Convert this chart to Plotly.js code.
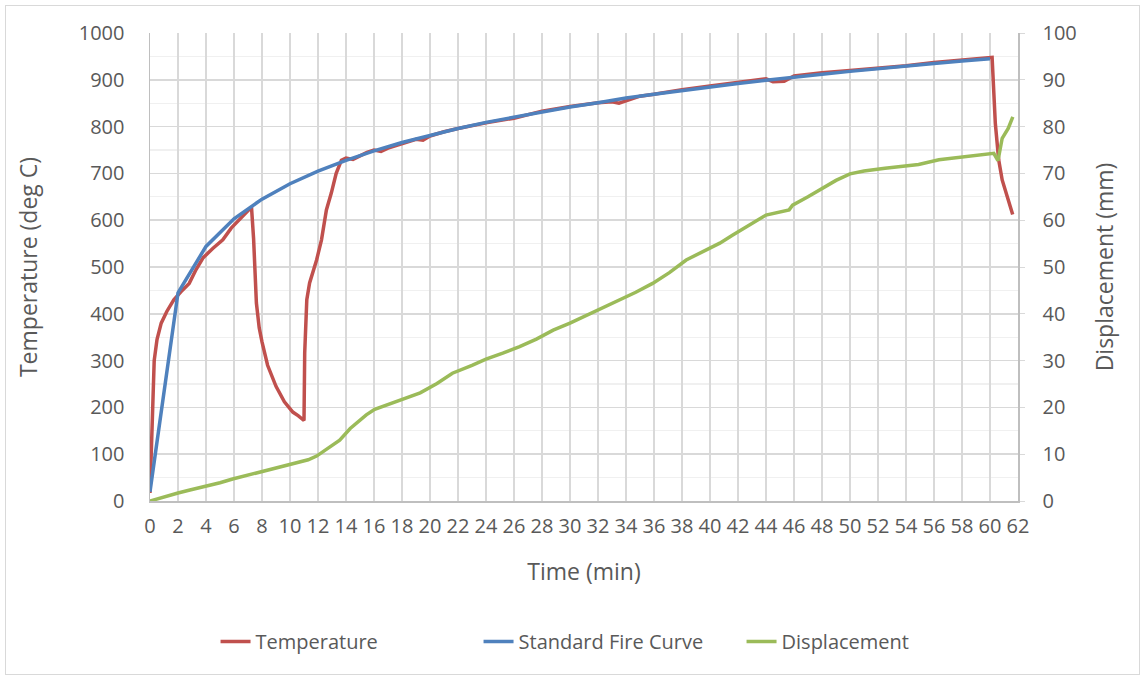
<!DOCTYPE html>
<html>
<head>
<meta charset="utf-8">
<script src="https://cdn.plot.ly/plotly-3.0.1.min.js"></script>
<style>
html,body{margin:0;padding:0;background:#fff;}
#wrap{position:relative;width:1144px;height:679px;}
#chart{position:absolute;left:0;top:0;width:1144px;height:679px;}
#frame{position:absolute;left:5px;top:5px;width:1133px;height:668px;border:1px solid #d9d9d9;pointer-events:none;}
</style>
</head>
<body>
<div id="wrap"><div id="chart"></div><div id="frame"></div></div>
<script>
// Temperature (deg C) measured
const tempTime = [0,0.15,0.3,0.5,0.8,1.2,1.7,2.3,2.8,3.3,3.8,4.5,5.2,5.8,6.5,7.25,7.4,7.5,7.6,7.8,8.0,8.4,9.0,9.6,10.2,10.6,11.0,11.05,11.2,11.4,11.9,12.25,12.6,12.95,13.3,13.67,14.0,14.5,15.0,15.5,16.0,16.5,17.0,18.0,19.0,19.5,20.0,21,22,24,26,28,30,32,33,33.5,34,35,36,38,40,42,44,44.5,45.3,46,48,50,52,54,56,58,60,60.15,60.38,60.62,60.87,61.62];
const tempValues = [17,150,300,345,380,405,430,450,465,495,520,540,558,583,605,628,560,487,423,370,340,290,245,212,190,182,172,316,430,466,515,558,622,658,700,728,733,730,738,745,750,747,754,763,773,771,780,789,796,808,818,833,843,851,853,850,855,865,869,879,887,895,902,896,897,908,915,920,925,930,937,942,948,948,807,729,686,612];

// Standard fire curve (deg C)
const stdTime = [0,2,4,6,8,10,12,14,16,18,20,22,24,26,28,30,32,34,36,38,40,42,44,46,48,50,52,54,56,58,60];
const stdValues = [20,445,544,603,645,678,705,728,748,766,781,796,809,820,832,842,851,861,869,877,885,892,899,906,912,918,924,930,935,940,945];

// Displacement (mm)
const dispTime = [0,1,2,2.85,4,5,5.9,7,8.1,9,10.2,11.3,11.9,12.7,13.55,14.3,15.45,16.05,17,18.3,19.3,20.5,21.6,23,24,25.2,26.4,27.6,28.8,30,31.1,32.3,33.5,34.7,35.9,37.1,38.3,39.5,40.7,41.6,42.8,44,45.65,45.9,47,48,49,50,51,52.5,54.9,56.35,58.25,60.27,60.57,60.87,61.3,61.63];
const dispValues = [0,0.9,1.7,2.35,3.1,3.9,4.7,5.5,6.4,7.1,8.0,8.8,9.6,11.2,13.0,15.5,18.4,19.6,20.6,21.9,23.1,25.1,27.3,29,30.3,31.6,33.0,34.6,36.5,38,39.5,41.2,42.9,44.6,46.5,48.8,51.5,53.3,55.1,56.8,58.9,61.1,62.2,63.2,65,66.8,68.5,69.9,70.5,71.1,71.9,72.9,73.6,74.3,72.7,77.5,79.6,82.1];

const seriesNames = ['Temperature','Standard Fire Curve','Displacement'];
const xTitle = 'Time (min)';
const yTitle = 'Temperature (deg C)';
const y2Title = 'Displacement (mm)';

const FONT = '"Open Sans", sans-serif';
const TXT = '#595959';

const traces = [
  {x: tempTime, y: tempValues, name: seriesNames[0], type:'scatter', mode:'lines',
   line:{color:'#C0504D', width:3.5}},
  {x: stdTime, y: stdValues, name: seriesNames[1], type:'scatter', mode:'lines',
   line:{color:'#4F81BD', width:3.5}},
  {x: dispTime, y: dispValues, name: seriesNames[2], type:'scatter', mode:'lines', yaxis:'y2',
   line:{color:'#9BBB59', width:3.5}}
];

const layout = {
  width:1144, height:679,
  margin:{l:150, r:126, t:33, b:178},
  paper_bgcolor:'#ffffff', plot_bgcolor:'#ffffff',
  font:{family:FONT, color:TXT, size:20},
  showlegend:true,
  legend:{orientation:'h', x:0.53, xanchor:'center', y:-0.3, yanchor:'middle',
          font:{family:FONT, size:20, color:TXT}, entrywidth:218, entrywidthmode:'pixels',
          traceorder:'normal'},
  xaxis:{range:[0,62], dtick:2, tick0:0, showgrid:true, gridcolor:'#d9d9d9', gridwidth:1.5,
         zeroline:false, showline:true, linecolor:'#bfbfbf', linewidth:1.5,
         ticks:'', ticklabelstandoff:6, tickfont:{family:FONT, size:20, color:TXT},
         title:{text:xTitle, font:{family:FONT, size:23, color:TXT}, standoff:26}},
  yaxis:{range:[0,1000], dtick:100, showgrid:true, gridcolor:'#d9d9d9', gridwidth:1.5,
         minor:{dtick:50, showgrid:true, gridcolor:'#f0f0f0', gridwidth:1.2},
         zeroline:false, showline:true, linecolor:'#bfbfbf', linewidth:1.5,
         ticks:'', ticklabelstandoff:20, tickfont:{family:FONT, size:20, color:TXT},
         title:{text:yTitle, font:{family:FONT, size:23, color:TXT}, standoff:34}},
  yaxis2:{range:[0,100], dtick:10, overlaying:'y', side:'right', showgrid:false,
          zeroline:false, showline:true, linecolor:'#bfbfbf', linewidth:1.5,
          ticks:'outside', ticklen:5, tickcolor:'#d9d9d9', ticklabelstandoff:14,
          tickfont:{family:FONT, size:20, color:TXT},
          title:{text:y2Title, font:{family:FONT, size:23, color:TXT}, standoff:21}}
};

Plotly.newPlot('chart', traces, layout, {displayModeBar:false, staticPlot:true});
</script>
</body>
</html>
